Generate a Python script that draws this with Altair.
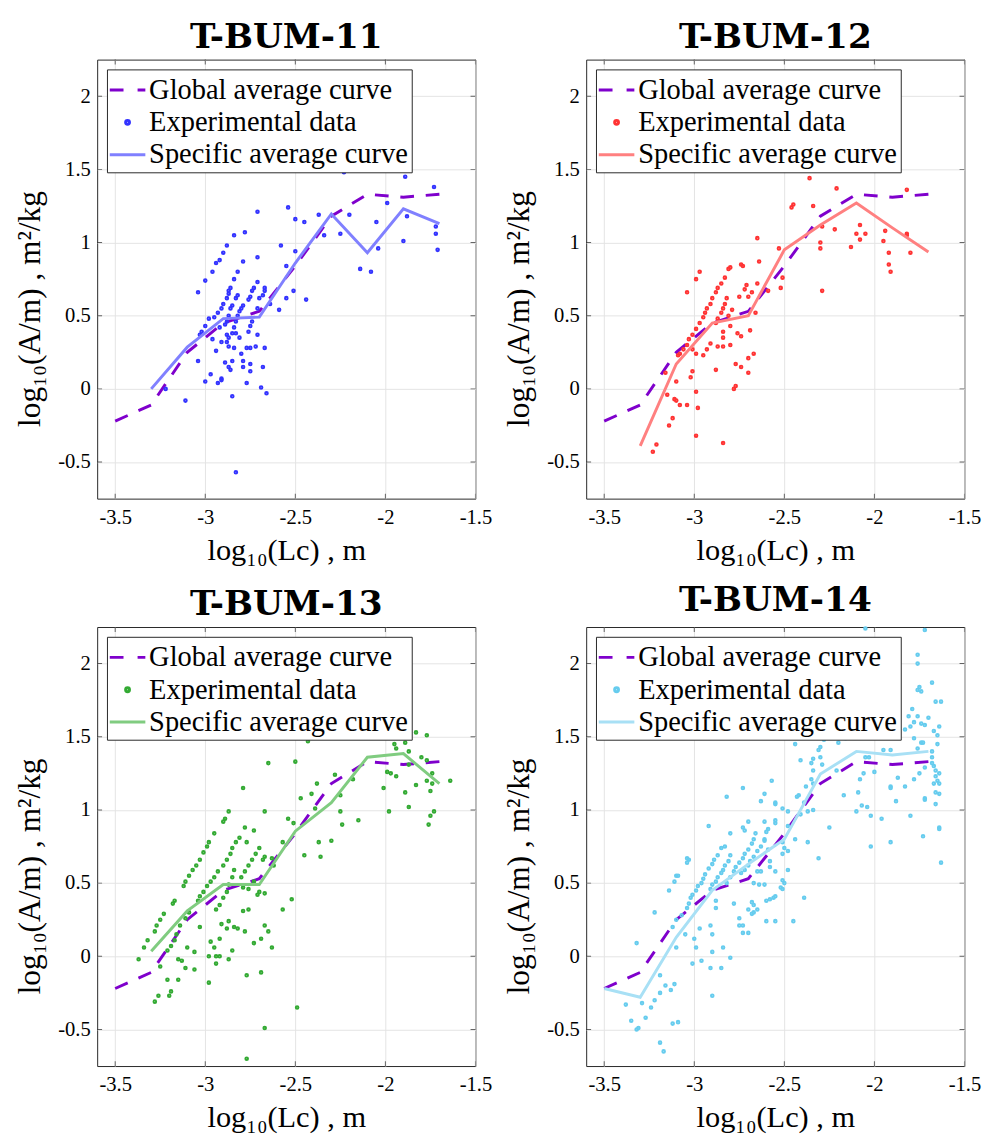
import altair as alt
import pandas as pd

# ---------------- data ----------------
lc_bins = [-3.5, -3.3, -3.1, -2.9, -2.7, -2.5, -2.3, -2.1, -1.9, -1.7]
global_avg = [-0.22, -0.11, 0.25, 0.45, 0.53, 0.84, 1.18, 1.33, 1.31, 1.33]

spec_x_11 = [-3.3, -3.1, -2.9, -2.7, -2.5, -2.3, -2.1, -1.9, -1.7]
spec_y_11 = [0.0, 0.285, 0.48, 0.49, 0.86, 1.195, 0.93, 1.23, 1.13]
spec_x_12 = [-3.3, -3.1, -2.9, -2.7, -2.5, -2.3, -2.1, -1.9, -1.7]
spec_y_12 = [-0.39, 0.17, 0.45, 0.50, 0.95, 1.12, 1.27, 1.10, 0.935]
spec_x_13 = [-3.3, -3.1, -2.9, -2.7, -2.5, -2.3, -2.1, -1.9, -1.7]
spec_y_13 = [0.035, 0.31, 0.49, 0.49, 0.855, 1.05, 1.36, 1.385, 1.18]
spec_x_14 = [-3.5, -3.3, -3.1, -2.9, -2.7, -2.5, -2.3, -2.1, -1.9, -1.7]
spec_y_14 = [-0.22, -0.28, 0.13, 0.45, 0.63, 0.80, 1.245, 1.40, 1.375, 1.40]

exp_11 = [
    (-2.23, 1.48), (-1.89, 1.45), (-1.73, 1.38), (-2.54, 1.24), (-2.71, 1.21), (-2.37, 1.19),
    (-2.20, 1.19), (-2.50, 1.16), (-2.45, 1.14), (-2.05, 1.14), (-1.99, 1.27), (-1.88, 1.18),
    (-2.34, 1.05), (-2.25, 1.06), (-1.72, 1.11), (-1.72, 1.06), (-1.90, 1.01), (-1.71, 0.95),
    (-2.04, 0.96), (-2.14, 0.82), (-2.08, 0.80), (-2.58, 0.98), (-2.50, 0.94), (-2.71, 0.90),
    (-2.55, 0.84), (-2.51, 0.67), (-2.44, 0.61), (-2.59, 0.54), (-2.64, 0.58), (-2.55, 0.62),
    (-3.04, 0.66), (-3.00, 0.74), (-3.04, 0.19), (-3.11, -0.08), (-3.22, 0.00), (-3.00, 0.05),
    (-2.97, 0.10), (-2.93, 0.04), (-2.85, -0.05), (-2.83, -0.57), (-2.66, -0.03), (-2.69, 0.01),
    (-2.77, 0.04), (-2.68, 0.15), (-2.75, 0.12), (-2.75, 0.17), (-2.79, 0.15),
    (-2.84, 1.05), (-2.88, 0.98), (-2.90, 0.93), (-2.92, 0.88), (-2.94, 0.86), (-2.96, 0.80),
    (-2.78, 1.07), (-2.79, 0.87), (-2.82, 0.80), (-2.84, 0.75), (-2.86, 0.69), (-2.87, 0.67),
    (-2.87, 0.65), (-2.88, 0.62), (-2.90, 0.58), (-2.91, 0.55), (-2.93, 0.52), (-2.95, 0.49),
    (-2.98, 0.48), (-3.00, 0.43), (-3.02, 0.39), (-3.03, 0.37),
    (-2.82, 0.64), (-2.83, 0.62), (-2.85, 0.57), (-2.86, 0.55), (-2.87, 0.50), (-2.88, 0.46),
    (-2.89, 0.44), (-2.92, 0.42),
    (-2.79, 0.57), (-2.80, 0.55), (-2.81, 0.53), (-2.82, 0.50), (-2.83, 0.46), (-2.84, 0.42),
    (-2.85, 0.38), (-2.87, 0.35), (-2.88, 0.32),
    (-2.71, 0.73), (-2.73, 0.69), (-2.74, 0.67), (-2.75, 0.63), (-2.76, 0.61), (-2.67, 0.69),
    (-2.67, 0.67), (-2.68, 0.64), (-2.70, 0.62), (-2.71, 0.55), (-2.74, 0.46), (-2.75, 0.43),
    (-2.76, 0.39),
    (-2.96, 0.34), (-2.94, 0.26), (-2.91, 0.32), (-2.88, 0.37), (-2.87, 0.29), (-2.84, 0.28),
    (-2.83, 0.38), (-2.81, 0.35), (-2.80, 0.24), (-2.79, 0.19), (-2.77, 0.28), (-2.75, 0.28),
    (-2.72, 0.29), (-2.67, 0.28), (-2.71, 0.37), (-2.89, 0.18), (-2.87, 0.15), (-2.86, 0.13),
    (-2.85, 0.19), (-2.91, 0.07), (-2.91, 0.06),
]

exp_12 = [
    (-2.15, 1.50), (-2.36, 1.44), (-2.21, 1.37), (-1.82, 1.36), (-2.46, 1.24), (-2.45, 1.26),
    (-2.34, 1.25), (-2.29, 1.11), (-2.22, 1.09), (-2.08, 1.12), (-2.10, 1.06), (-2.05, 1.06),
    (-2.08, 1.02), (-2.13, 0.97), (-2.30, 1.00), (-2.30, 0.96), (-1.94, 1.08), (-1.95, 1.01),
    (-1.92, 0.93), (-1.92, 0.85), (-1.91, 0.80), (-1.82, 1.06), (-1.82, 1.05), (-1.80, 0.93),
    (-2.29, 0.67), (-2.65, 1.03), (-2.64, 0.87), (-2.53, 0.96), (-2.51, 0.76), (-2.52, 0.69),
    (-2.59, 0.67), (-2.65, 0.72), (-2.66, 0.52),
    (-2.97, 0.80), (-2.99, 0.75), (-3.04, 0.66),
    (-2.80, 0.83), (-2.81, 0.82), (-2.83, 0.76), (-2.85, 0.72), (-2.87, 0.69), (-2.88, 0.66),
    (-2.90, 0.62), (-2.91, 0.58), (-2.93, 0.55), (-2.94, 0.52), (-2.95, 0.49), (-2.97, 0.45),
    (-2.99, 0.41), (-3.01, 0.37), (-3.03, 0.34), (-3.04, 0.30), (-3.06, 0.27), (-3.08, 0.24),
    (-3.09, 0.23),
    (-2.74, 0.85), (-2.73, 0.84), (-2.71, 0.71), (-2.72, 0.68), (-2.82, 0.62), (-2.83, 0.58),
    (-2.84, 0.55), (-2.85, 0.52), (-2.87, 0.48), (-2.88, 0.45),
    (-2.79, 0.54), (-2.75, 0.63), (-2.70, 0.63), (-2.68, 0.66), (-2.81, 0.50), (-2.80, 0.43),
    (-2.76, 0.38), (-2.74, 0.36), (-2.69, 0.40), (-2.84, 0.39), (-2.84, 0.35), (-2.87, 0.29),
    (-2.80, 0.30), (-2.84, 0.29), (-2.91, 0.31), (-2.93, 0.27), (-2.95, 0.23), (-3.01, 0.27),
    (-2.99, 0.24), (-3.01, 0.12), (-3.02, 0.08), (-2.99, -0.02), (-2.98, -0.13), (-2.99, -0.32),
    (-2.84, -0.37), (-2.78, 0.00), (-2.77, 0.02), (-2.77, 0.17), (-2.74, 0.15), (-2.70, 0.11),
    (-2.70, 0.21), (-2.67, 0.24), (-2.88, 0.13),
    (-3.16, 0.11), (-3.10, 0.05), (-3.15, -0.04), (-3.11, -0.07), (-3.10, -0.08), (-3.08, -0.11),
    (-3.04, -0.11), (-3.12, -0.20), (-3.14, -0.25), (-3.21, -0.38), (-3.23, -0.43),
]

exp_13 = [
    (-1.83, 1.53), (-1.77, 1.51), (-2.43, 1.47), (-2.65, 1.32), (-2.50, 1.33), (-2.79, 1.15),
    (-1.95, 1.45), (-1.94, 1.42), (-1.89, 1.46), (-1.87, 1.40), (-1.80, 1.36), (-1.77, 1.34),
    (-1.87, 1.31), (-1.99, 1.26), (-1.97, 1.25), (-1.94, 1.23), (-1.74, 1.25), (-1.77, 1.20),
    (-1.74, 1.18), (-1.64, 1.20), (-1.83, 1.17), (-2.01, 1.15), (-1.89, 1.12), (-1.75, 1.13),
    (-1.87, 1.02), (-1.98, 0.99), (-1.73, 0.99), (-1.75, 0.96), (-1.76, 0.90), (-2.15, 0.93),
    (-2.28, 1.24), (-2.18, 1.21), (-2.25, 1.10), (-2.25, 0.99), (-2.24, 0.90), (-2.38, 1.18),
    (-2.41, 1.11), (-2.47, 1.08), (-2.39, 1.01), (-2.54, 0.94), (-2.51, 0.91), (-2.57, 0.78),
    (-2.37, 0.78), (-2.30, 0.79), (-2.45, 0.69), (-2.36, 0.68), (-2.67, 0.99), (-2.73, 0.86),
    (-2.78, 0.88), (-2.77, 0.78), (-2.63, 0.67), (-2.62, 0.62), (-2.68, 0.66), (-2.52, 0.39),
    (-2.57, 0.32), (-2.49, -0.35), (-2.67, -0.49), (-2.77, -0.70),
    (-2.87, 0.99), (-2.89, 0.94), (-2.90, 0.92), (-2.95, 0.84), (-2.98, 0.78), (-2.99, 0.75),
    (-3.01, 0.71), (-3.03, 0.66), (-3.05, 0.62), (-3.07, 0.59), (-3.09, 0.55), (-3.11, 0.51),
    (-3.12, 0.48),
    (-3.17, 0.38), (-3.18, 0.36), (-3.23, 0.29), (-3.25, 0.25), (-3.27, 0.21), (-3.28, 0.17),
    (-3.32, 0.11), (-3.34, 0.06), (-3.37, -0.02),
    (-2.81, 0.81), (-2.83, 0.78), (-2.85, 0.74), (-2.86, 0.70), (-2.88, 0.66), (-2.90, 0.62),
    (-2.93, 0.58), (-2.95, 0.54), (-2.97, 0.51), (-2.99, 0.48), (-3.01, 0.44), (-3.03, 0.41),
    (-3.04, 0.38), (-3.09, 0.30), (-3.11, 0.26), (-3.14, 0.21), (-3.16, 0.15), (-3.17, 0.11),
    (-3.19, 0.07), (-3.21, 0.04),
    (-2.70, 0.74), (-2.72, 0.70), (-2.74, 0.66), (-2.76, 0.62), (-2.78, 0.58), (-2.80, 0.54),
    (-2.84, 0.59), (-2.85, 0.54), (-2.87, 0.49), (-2.88, 0.44), (-2.90, 0.40), (-2.92, 0.35),
    (-2.94, 0.32),
    (-2.67, 0.68), (-2.70, 0.44), (-2.67, 0.43), (-2.71, 0.42), (-2.76, 0.32), (-2.79, 0.31),
    (-2.76, 0.46), (-2.79, 0.47), (-2.73, 0.51), (-2.67, 0.21), (-2.65, 0.17), (-2.63, 0.06),
    (-2.69, 0.12), (-2.73, 0.09), (-2.69, -0.11), (-2.77, -0.13), (-2.78, 0.17), (-2.82, 0.19),
    (-2.84, 0.20), (-2.87, 0.24), (-2.88, 0.19), (-2.91, 0.22), (-2.92, 0.12), (-2.95, 0.06),
    (-2.94, 0.00), (-2.92, 0.00), (-2.98, 0.00), (-2.98, -0.18), (-2.94, -0.05), (-2.97, 0.10),
    (-2.87, -0.02), (-2.85, 0.04), (-3.03, 0.20), (-3.06, 0.03), (-3.06, -0.09), (-3.11, -0.08),
    (-3.15, -0.02), (-3.10, 0.06), (-3.13, -0.03), (-3.21, -0.16), (-3.25, -0.07), (-3.26, -0.27),
    (-3.28, -0.31), (-3.20, -0.27), (-3.19, -0.24), (-3.15, -0.16),
]

exp_14 = [
    (-2.05, 2.24), (-1.72, 2.23), (-1.76, 2.06), (-1.76, 2.00), (-1.68, 1.87), (-1.75, 1.84),
    (-1.74, 1.81), (-1.76, 1.82), (-1.66, 1.74), (-1.63, 1.74), (-1.79, 1.69), (-1.76, 1.64),
    (-1.81, 1.64), (-1.78, 1.60), (-1.74, 1.59), (-1.72, 1.58), (-1.70, 1.63), (-1.64, 1.57),
    (-1.80, 1.57), (-1.83, 1.55), (-1.67, 1.54), (-1.65, 1.51), (-1.78, 1.49), (-1.74, 1.46),
    (-1.73, 1.46), (-1.76, 1.42), (-1.68, 1.40), (-1.65, 1.45), (-1.68, 1.36), (-1.68, 1.32),
    (-1.67, 1.30), (-1.66, 1.27), (-1.64, 1.25), (-1.66, 1.23), (-1.65, 1.20), (-1.64, 1.18),
    (-1.67, 1.18), (-1.66, 1.12), (-1.64, 1.11), (-1.72, 1.29), (-1.75, 1.25), (-1.78, 1.21),
    (-1.72, 1.08), (-1.72, 1.07), (-1.66, 1.04), (-1.64, 0.88), (-1.64, 0.87), (-1.73, 0.82),
    (-1.63, 0.64), (-1.80, 0.96), (-1.83, 1.16), (-1.87, 1.22), (-1.88, 1.06), (-1.91, 1.16),
    (-1.91, 1.15), (-1.95, 1.41), (-1.91, 1.41), (-2.00, 1.26), (-1.96, 0.94), (-1.91, 0.78),
    (-2.02, 0.75), (-2.02, 0.96), (-2.04, 1.02), (-2.10, 0.99), (-2.07, 1.03), (-2.09, 1.12),
    (-2.08, 1.21), (-2.06, 1.25), (-2.05, 1.36), (-2.03, 1.36), (-2.17, 1.10), (-2.21, 1.27),
    (-2.20, 1.46), (-2.16, 1.49), (-2.28, 1.48), (-2.30, 1.43), (-2.31, 1.41), (-2.30, 1.36),
    (-2.29, 1.31), (-2.25, 0.88), (-2.31, 0.67), (-2.34, 1.27), (-2.35, 1.32), (-2.34, 1.35),
    (-2.35, 1.21), (-2.34, 1.18), (-2.34, 1.00), (-2.37, 0.99), (-2.38, 1.16), (-2.41, 1.34),
    (-2.44, 1.45), (-2.42, 1.10), (-2.43, 1.09), (-2.39, 1.05), (-2.41, 0.97), (-2.44, 0.80),
    (-2.37, 0.78), (-2.39, 0.40), (-2.45, 0.24), (-2.51, 1.01), (-2.48, 0.99), (-2.48, 0.89),
    (-2.51, 0.78), (-2.50, 0.74), (-2.51, 0.70), (-2.48, 0.72), (-2.48, 0.59), (-2.51, 0.52),
    (-2.50, 0.50), (-2.52, 0.47), (-2.51, 0.46), (-2.55, 0.41), (-2.56, 0.40), (-2.55, 0.24),
    (-2.58, 0.39), (-2.60, 0.24), (-2.57, 1.20), (-2.55, 1.05), (-2.55, 1.04), (-2.55, 0.93),
    (-2.55, 0.91), (-2.61, 1.11), (-2.63, 1.06), (-2.73, 1.15), (-2.82, 1.09), (-2.59, 0.87),
    (-2.60, 0.85), (-2.61, 0.92), (-2.61, 0.80), (-2.59, 0.73), (-2.58, 0.65), (-2.58, 0.61),
    (-2.55, 0.58), (-2.63, 0.58), (-2.65, 0.58), (-2.61, 0.49), (-2.64, 0.49), (-2.67, 0.50),
    (-2.60, 0.38), (-2.65, 0.32), (-2.67, 0.30), (-2.68, 0.29), (-2.68, 0.37), (-2.67, 0.35),
    (-2.70, 0.32), (-2.70, 0.92), (-2.73, 0.88), (-2.72, 0.86), (-2.75, 0.26), (-2.73, 0.16),
    (-2.70, 0.16), (-2.73, 0.21), (-2.75, 0.21),
    (-2.80, 0.84), (-2.83, 0.75), (-2.85, 0.74), (-2.87, 0.69), (-2.89, 0.66), (-2.90, 0.63),
    (-2.92, 0.60), (-2.94, 0.56), (-2.95, 0.53), (-2.96, 0.50), (-2.98, 0.48), (-2.99, 0.45),
    (-3.01, 0.42), (-3.02, 0.40), (-3.03, 0.36), (-3.04, 0.33),
    (-3.04, 0.67), (-3.03, 0.66), (-3.04, 0.64), (-3.10, 0.55), (-3.11, 0.51), (-3.14, 0.45),
    (-3.22, 0.30), (-3.12, 0.20), (-3.10, 0.25), (-3.07, 0.28), (-3.05, 0.15),
    (-2.66, 0.84), (-2.67, 0.80), (-2.68, 0.77), (-2.70, 0.73), (-2.72, 0.70), (-2.73, 0.67),
    (-2.75, 0.64), (-2.77, 0.61), (-2.78, 0.58), (-2.80, 0.54), (-2.82, 0.50),
    (-2.61, 0.79), (-2.63, 0.75), (-2.65, 0.72), (-2.67, 0.68), (-2.69, 0.65), (-2.70, 0.62),
    (-2.72, 0.59), (-2.74, 0.57),
    (-2.80, 0.69), (-2.81, 0.65), (-2.83, 0.62), (-2.84, 0.59), (-2.85, 0.57), (-2.87, 0.54),
    (-2.88, 0.51), (-2.90, 0.49), (-2.91, 0.46),
    (-3.09, 0.55), (-3.01, -0.05), (-2.99, 0.06), (-2.96, -0.03), (-2.97, 0.19), (-3.00, 0.12),
    (-2.91, 0.21), (-2.90, 0.15), (-2.90, 0.03), (-2.91, -0.08), (-2.85, -0.08), (-2.90, -0.27),
    (-2.84, 0.06), (-2.80, -0.01), (-2.88, 0.33), (-2.88, 0.38), (-2.92, 0.89), (-2.78, 0.36),
    (-3.32, 0.09), (-3.10, 0.06), (-3.19, -0.13), (-3.16, -0.20), (-3.19, -0.25), (-3.22, -0.30),
    (-3.24, -0.35), (-3.27, -0.42), (-3.32, -0.50), (-3.31, -0.49), (-3.35, -0.44), (-3.38, -0.33),
    (-3.29, -0.32), (-3.19, -0.59), (-3.17, -0.65), (-3.12, -0.46), (-3.09, -0.45), (-3.13, -0.23),
    (-3.11, -0.19),
]

x_ticks = [-3.5, -3, -2.5, -2, -1.5]
y_ticks = [-0.5, 0, 0.5, 1, 1.5, 2]

titles = ["T-BUM-11", "T-BUM-12", "T-BUM-13", "T-BUM-14"]
series_labels = ["Global average curve", "Experimental data", "Specific average curve"]
global_color = "#7F00CC"
dot_colors = ["#3333FF", "#FF3333", "#33AA33", "#66CCEE"]
line_colors = ["#8080FF", "#FF8080", "#80CC80", "#A8E0F5"]

# ---------------- styling ----------------
DASH_PATH = "M-1.1,0L-0.25,0M0.62,0L1.1,0"
DOT_PATH = "M-0.12,0A0.12,0.12 0 1,0 0.12,0A0.12,0.12 0 1,0 -0.12,0Z"
LINE_PATH = "M-1.1,0L1.1,0"

W, H = 386, 448
SERIF = "Liberation Serif"

xscale = alt.Scale(domain=[-3.6, -1.5], nice=False, zero=False)
yscale = alt.Scale(domain=[-0.75, 2.25], nice=False, zero=False)
xaxis = alt.Axis(values=x_ticks, title="log₁₀(Lc) , m",
                 labelExpr="toString(datum.value)",
                 ticks=False, domain=False, labelPadding=8, titlePadding=9,
                 titleFontSize=31, labelFlush=False)
yaxis = alt.Axis(values=y_ticks, title="log₁₀(A/m) , m²/kg",
                 labelExpr="toString(datum.value)",
                 ticks=False, domain=False, labelPadding=7, titlePadding=12,
                 titleFontSize=32, titleY=254)


def X(field):
    return alt.X(field, type="quantitative", scale=xscale, axis=xaxis)


def Y(field):
    return alt.Y(field, type="quantitative", scale=yscale, axis=yaxis)


def panel(i, pts, sx, sy):
    legend = alt.Legend(title=None, orient="top-left", offset=10, strokeColor="#262626",
                        fillColor="white", padding=3, labelFont=SERIF, labelFontSize=29,
                        labelColor="black", labelLimit=500, symbolSize=1089,
                        symbolStrokeWidth=3, labelOffset=4, rowPadding=0)
    gdf = pd.DataFrame({"x": lc_bins, "y": global_avg})
    pdf = pd.DataFrame({"x": [p[0] for p in pts], "y": [p[1] for p in pts],
                        "series": series_labels[1]})
    sdf = pd.DataFrame({"x": sx, "y": sy})
    gline = alt.Chart(gdf).mark_line(color=global_color, strokeWidth=3,
                                     strokeDash=[14, 12]).encode(x=X("x"), y=Y("y"))
    points = alt.Chart(pdf).mark_point(filled=False, strokeWidth=2, size=500, opacity=1).encode(
        x=X("x"), y=Y("y"),
        color=alt.Color("series:N", scale=alt.Scale(domain=series_labels,
                        range=[global_color, dot_colors[i], line_colors[i]]), legend=legend),
        shape=alt.Shape("series:N", scale=alt.Scale(domain=series_labels,
                        range=[DASH_PATH, DOT_PATH, LINE_PATH]), legend=legend),
    )
    sline = alt.Chart(sdf).mark_line(color=line_colors[i], strokeWidth=3).encode(x=X("x"), y=Y("y"))

    txdf = pd.DataFrame({"x": x_ticks})
    tydf = pd.DataFrame({"y": y_ticks})
    tick_top = alt.Chart(txdf).mark_tick(orient="vertical", color="#262626", thickness=1,
                                         size=10, clip=True).encode(x=X("x"), y=alt.value(0))
    tick_bot = alt.Chart(txdf).mark_tick(orient="vertical", color="#262626", thickness=1,
                                         size=10, clip=True).encode(x=X("x"), y=alt.value(H))
    tick_l = alt.Chart(tydf).mark_tick(orient="horizontal", color="#262626", thickness=1,
                                       size=10, clip=True).encode(y=Y("y"), x=alt.value(0))
    tick_r = alt.Chart(tydf).mark_tick(orient="horizontal", color="#262626", thickness=1,
                                       size=10, clip=True).encode(y=Y("y"), x=alt.value(W))

    return alt.layer(gline, points, sline, tick_top, tick_bot, tick_l, tick_r).properties(
        width=W, height=H,
        title=alt.TitleParams(titles[i], font="DejaVu Serif", fontSize=35, fontWeight="bold",
                              color="black", anchor="middle", offset=5),
    )


p1 = panel(0, exp_11, spec_x_11, spec_y_11)
p2 = panel(1, exp_12, spec_x_12, spec_y_12)
p3 = panel(2, exp_13, spec_x_13, spec_y_13)
p4 = panel(3, exp_14, spec_x_14, spec_y_14)

chart = alt.concat(p1, p2, p3, p4, columns=2, spacing={"row": 131, "column": 113},
                   bounds="flush").resolve_scale(
    color="independent", shape="independent"
).properties(
    padding={"left": 5, "top": 0, "right": 5, "bottom": 5}, background="white"
).configure_view(
    stroke="#262626", strokeWidth=1
).configure_axis(
    labelFont=SERIF, labelFontSize=21, labelColor="black",
    titleFont=SERIF, titleFontSize=31, titleColor="black", titleFontWeight="normal",
    gridColor="#E3E3E3", gridWidth=1, gridOpacity=1,
)

chart.save("out.html", embed_options={"renderer": "svg", "actions": False})
